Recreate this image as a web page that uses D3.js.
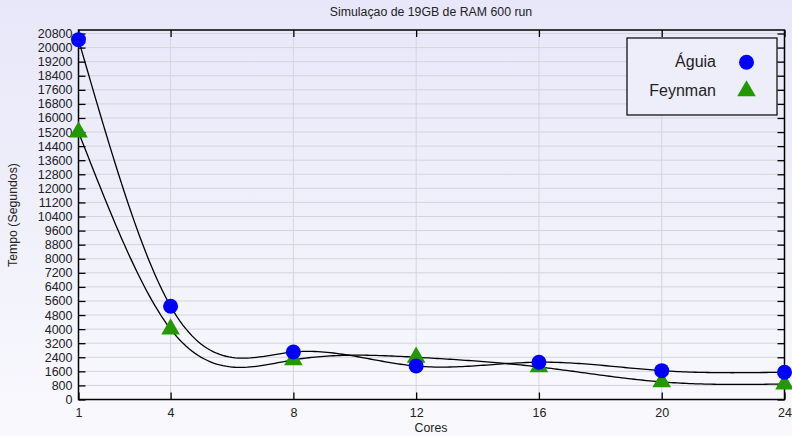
<!DOCTYPE html>
<html>
<head>
<meta charset="utf-8">
<script src="https://cdn.jsdelivr.net/npm/d3@7"></script>
<style>
  html, body { margin: 0; padding: 0; }
  body { width: 792px; height: 436px; overflow: hidden; }
  text { font-family: "Liberation Sans", Arial, sans-serif; fill: #222; }
</style>
</head>
<body>
<div id="chart"></div>
<script>
const cores = [1, 4, 8, 12, 16, 20, 24];
const aguia = [20450, 5300, 2700, 1900, 2120, 1640, 1550];
const feynman = [15200, 4000, 2250, 2400, 1850, 1000, 880];
const yTicks = d3.range(0, 20801, 800);
const seriesNames = ["Águia", "Feynman"];

const W = 792, H = 436;
const margin = { top: 30, right: 7.5, bottom: 36.5, left: 78.5 };
const width = W - margin.left - margin.right;
const height = H - margin.top - margin.bottom;

const svg = d3.select("#chart").append("svg")
  .attr("width", W).attr("height", H);

const defs = svg.append("defs");
const grad = defs.append("linearGradient").attr("id", "bg")
  .attr("x1", 0).attr("y1", 0).attr("x2", 0).attr("y2", 1);
grad.append("stop").attr("offset", "0%").attr("stop-color", "#e7e7f9");
grad.append("stop").attr("offset", "100%").attr("stop-color", "#f9f9fd");

svg.append("rect").attr("width", W).attr("height", H).attr("fill", "url(#bg)");

const g = svg.append("g")
  .attr("transform", "translate(" + margin.left + "," + margin.top + ")");

const x = d3.scaleLinear().domain([1, 24]).range([0, width]);
const y = d3.scaleLinear().domain([0, 21000]).range([height, 0]);

// grid
g.append("g").selectAll("line").data(yTicks.filter(d => d > 0)).enter()
  .append("line")
  .attr("x1", 0).attr("x2", width)
  .attr("y1", d => y(d)).attr("y2", d => y(d))
  .attr("stroke", "#d4d4dc").attr("stroke-width", 1);
g.append("g").selectAll("line").data(cores.slice(1, -1)).enter()
  .append("line")
  .attr("y1", 0).attr("y2", height)
  .attr("x1", d => x(d)).attr("x2", d => x(d))
  .attr("stroke", "#d4d4dc").attr("stroke-width", 1);

// axes
const yAxis = g.append("g").call(d3.axisLeft(y).tickValues(yTicks).tickSizeInner(-7).tickSizeOuter(0).tickPadding(6).tickFormat(d3.format("d")));
const yAxisR = g.append("g").attr("transform", "translate(" + width + ",0)")
  .call(d3.axisRight(y).tickValues(yTicks).tickSizeInner(-7).tickSizeOuter(0).tickFormat(""));
const xAxis = g.append("g").attr("transform", "translate(0," + height + ")")
  .call(d3.axisBottom(x).tickValues(cores).tickSizeInner(-7).tickSizeOuter(0).tickPadding(6).tickFormat(d3.format("d")));
const xAxisT = g.append("g")
  .call(d3.axisTop(x).tickValues(cores).tickSizeInner(-7).tickSizeOuter(0).tickFormat(""));
[yAxis, yAxisR, xAxis, xAxisT].forEach(a => {
  a.select(".domain").remove();
  a.selectAll(".tick line").attr("stroke", "#000").attr("stroke-width", 1.3);
  a.selectAll("text").style("font-size", "12.5px").attr("fill", "#222");
});
xAxis.selectAll("text").attr("dy", "0.9em");

g.append("rect").attr("width", width).attr("height", height)
  .attr("fill", "none").attr("stroke", "#000").attr("stroke-width", 1.5);

// natural cubic spline y(x)
function spline(xs, ys) {
  const n = xs.length;
  const h = [], a = [], l = [1], mu = [0], z = [0];
  for (let i = 0; i < n - 1; i++) h.push(xs[i + 1] - xs[i]);
  for (let i = 1; i < n - 1; i++)
    a[i] = 3 / h[i] * (ys[i + 1] - ys[i]) - 3 / h[i - 1] * (ys[i] - ys[i - 1]);
  for (let i = 1; i < n - 1; i++) {
    l[i] = 2 * (xs[i + 1] - xs[i - 1]) - h[i - 1] * mu[i - 1];
    mu[i] = h[i] / l[i];
    z[i] = (a[i] - h[i - 1] * z[i - 1]) / l[i];
  }
  const c = new Array(n).fill(0), b = [], d = [];
  for (let j = n - 2; j >= 1; j--) c[j] = z[j] - mu[j] * c[j + 1];
  for (let j = 0; j < n - 1; j++) {
    b[j] = (ys[j + 1] - ys[j]) / h[j] - h[j] * (c[j + 1] + 2 * c[j]) / 3;
    d[j] = (c[j + 1] - c[j]) / (3 * h[j]);
  }
  return t => {
    let j = 0;
    while (j < n - 2 && t > xs[j + 1]) j++;
    const dx = t - xs[j];
    return ys[j] + b[j] * dx + c[j] * dx * dx + d[j] * dx * dx * dx;
  };
}

const line = d3.line().x(d => x(d[0])).y(d => y(d[1]));
[aguia, feynman].forEach(vals => {
  const f = spline(cores, vals);
  const pts = d3.range(1, 24.001, 0.1).map(t => [t, f(t)]);
  g.append("path").datum(pts).attr("d", line)
    .attr("fill", "none").attr("stroke", "#000").attr("stroke-width", 1.3);
});

const tri = d3.symbol().type(d3.symbolTriangle).size(150);
g.append("g").selectAll("path").data(feynman).enter().append("path")
  .attr("d", tri)
  .attr("transform", (d, i) => "translate(" + x(cores[i]) + "," + y(d) + ")")
  .attr("fill", "#229900");
g.append("g").selectAll("circle").data(aguia).enter().append("circle")
  .attr("cx", (d, i) => x(cores[i])).attr("cy", d => y(d)).attr("r", 7.5)
  .attr("fill", "#0000ff");

// legend
const lg = svg.append("g").attr("transform", "translate(627,38)");
lg.append("rect").attr("width", 150).attr("height", 77)
  .attr("fill", "#eeeefa").attr("stroke", "#000").attr("stroke-width", 1.2);
lg.append("text").attr("x", 89).attr("y", 29).attr("text-anchor", "end")
  .style("font-size", "16px").text(seriesNames[0]);
lg.append("text").attr("x", 89).attr("y", 58).attr("text-anchor", "end")
  .style("font-size", "16px").text(seriesNames[1]);
lg.append("circle").attr("cx", 119.5).attr("cy", 24.3).attr("r", 7.5).attr("fill", "#0000ff");
lg.append("path").attr("d", tri).attr("transform", "translate(119.5,53)").attr("fill", "#229900");

// titles
svg.append("text").attr("x", 431).attr("y", 16).attr("text-anchor", "middle")
  .style("font-size", "12.3px").text("Simulaçao de 19GB de RAM 600 run");
svg.append("text").attr("x", 431).attr("y", 432).attr("text-anchor", "middle")
  .style("font-size", "12.3px").text("Cores");
svg.append("text").attr("transform", "translate(17,215) rotate(-90)")
  .attr("text-anchor", "middle").style("font-size", "12.3px").text("Tempo (Segundos)");
</script>
</body>
</html>
